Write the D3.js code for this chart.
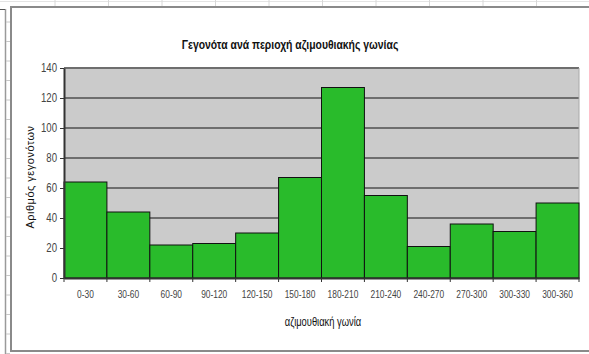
<!DOCTYPE html>
<html>
<head>
<meta charset="utf-8">
<script src="https://cdn.jsdelivr.net/npm/d3@7"></script>
<style>
  body { margin: 0; background: #fff; }
  svg { display: block; }
  text { font-family: "Liberation Sans", Arial, sans-serif; }
</style>
</head>
<body>
<div id="chart"></div>
<script>
const categories = ["0-30", "30-60", "60-90", "90-120", "120-150", "150-180",
    "180-210", "210-240", "240-270", "270-300", "300-330", "300-360"];
const counts = [64, 44, 22, 23, 30, 67, 127, 55, 21, 36, 31, 50];
const yTicks = [0, 20, 40, 60, 80, 100, 120, 140];

const W = 589, H = 354;
const margin = { top: 68, right: 10, bottom: 76, left: 64 };
const width = W - margin.left - margin.right;
const height = H - margin.top - margin.bottom;
const squeeze = 0.8; // the original text is drawn condensed

const svg = d3.select("#chart")
    .append("svg")
    .attr("width", W)
    .attr("height", H);

// spreadsheet bits behind the chart object
const sheet = svg.append("g");
sheet.append("line").attr("x1", 0).attr("x2", W).attr("y1", 1.5).attr("y2", 1.5)
    .attr("stroke", "#e4e4e4");
d3.range(55, W, 53.5).forEach(x => {
    sheet.append("line").attr("x1", x).attr("x2", x).attr("y1", 0).attr("y2", 6)
        .attr("stroke", "#d8d8d8");
});
sheet.append("line").attr("x1", 5.5).attr("x2", 5.5).attr("y1", 9).attr("y2", H)
    .attr("stroke", "#9a9a9a").attr("stroke-width", 1.5);
sheet.append("line").attr("x1", 0).attr("x2", 5).attr("y1", 9.5).attr("y2", 9.5)
    .attr("stroke", "#555");
d3.range(22, H, 19.5).forEach(y => {
    sheet.append("line").attr("x1", 6).attr("x2", 10).attr("y1", y).attr("y2", y)
        .attr("stroke", "#c8c8c8");
});

// chart object frame
svg.append("rect")
    .attr("x", 11).attr("y", 7)
    .attr("width", W).attr("height", 344)
    .attr("fill", "#fff")
    .attr("stroke", "#8a8a8a")
    .attr("stroke-width", 2);

const g = svg.append("g")
    .attr("transform", `translate(${margin.left},${margin.top})`);

const x = d3.scaleBand()
    .domain(categories)
    .range([0, width])
    .padding(0);

const y = d3.scaleLinear()
    .domain([0, 140])
    .range([height, 0]);

g.append("rect")
    .attr("width", width)
    .attr("height", height)
    .attr("fill", "#cbcbcb");

g.append("g")
    .selectAll("line")
    .data(yTicks.filter(d => d > 0))
    .join("line")
    .attr("x1", 0)
    .attr("x2", width)
    .attr("y1", d => y(d))
    .attr("y2", d => y(d))
    .attr("stroke", "#6e6e6e")
    .attr("stroke-width", 2);

g.append("line")
    .attr("x1", width).attr("x2", width)
    .attr("y1", 0).attr("y2", height)
    .attr("stroke", "#a8a8a8");

g.append("g")
    .selectAll("rect")
    .data(counts)
    .join("rect")
    .attr("x", (d, i) => x(categories[i]))
    .attr("y", d => y(d))
    .attr("width", x.bandwidth())
    .attr("height", d => height - y(d))
    .attr("fill", "#29bb2b")
    .attr("stroke", "#111")
    .attr("stroke-width", 1);

// x axis
g.append("g")
    .attr("transform", `translate(0,${height})`)
    .call(d3.axisBottom(x).tickSize(0).tickPadding(13))
    .call(a => a.select(".domain").attr("stroke", "#333").attr("stroke-width", 2))
    .call(a => a.selectAll(".tick text")
        .style("font-size", "10.5px")
        .attr("transform", `scale(${squeeze},1)`)
        .attr("fill", "#444"));

g.append("g")
    .selectAll("line")
    .data(d3.range(categories.length + 1))
    .join("line")
    .attr("x1", i => i * x.step())
    .attr("x2", i => i * x.step())
    .attr("y1", height)
    .attr("y2", height + 4)
    .attr("stroke", "#333");

// y axis
g.append("g")
    .call(d3.axisLeft(y).tickValues(yTicks).tickSize(4).tickPadding(3).tickSizeOuter(0))
    .call(a => a.select(".domain").attr("stroke", "#333").attr("stroke-width", 2))
    .call(a => a.selectAll(".tick line").attr("stroke", "#333"))
    .call(a => a.selectAll(".tick text")
        .attr("x", -7 / squeeze)
        .attr("transform", `scale(${squeeze},1)`)
        .style("font-size", "12px")
        .attr("fill", "#444"));

svg.append("text")
    .attr("transform", `translate(290,49) scale(${squeeze},1)`)
    .attr("text-anchor", "middle")
    .style("font-size", "13px")
    .style("font-weight", "bold")
    .attr("fill", "#111")
    .text("Γεγονότα ανά περιοχή αζιμουθιακής γωνίας");

svg.append("text")
    .attr("transform", `translate(323,326) scale(0.78,1)`)
    .attr("text-anchor", "middle")
    .style("font-size", "12px")
    .attr("fill", "#111")
    .text("αζιμουθιακή γωνία");

svg.append("text")
    .attr("transform", "translate(34,177) rotate(-90)")
    .attr("text-anchor", "middle")
    .style("font-size", "11px")
    .style("letter-spacing", "0.5px")
    .attr("fill", "#111")
    .text("Αριθμός γεγονότων");
</script>
</body>
</html>
